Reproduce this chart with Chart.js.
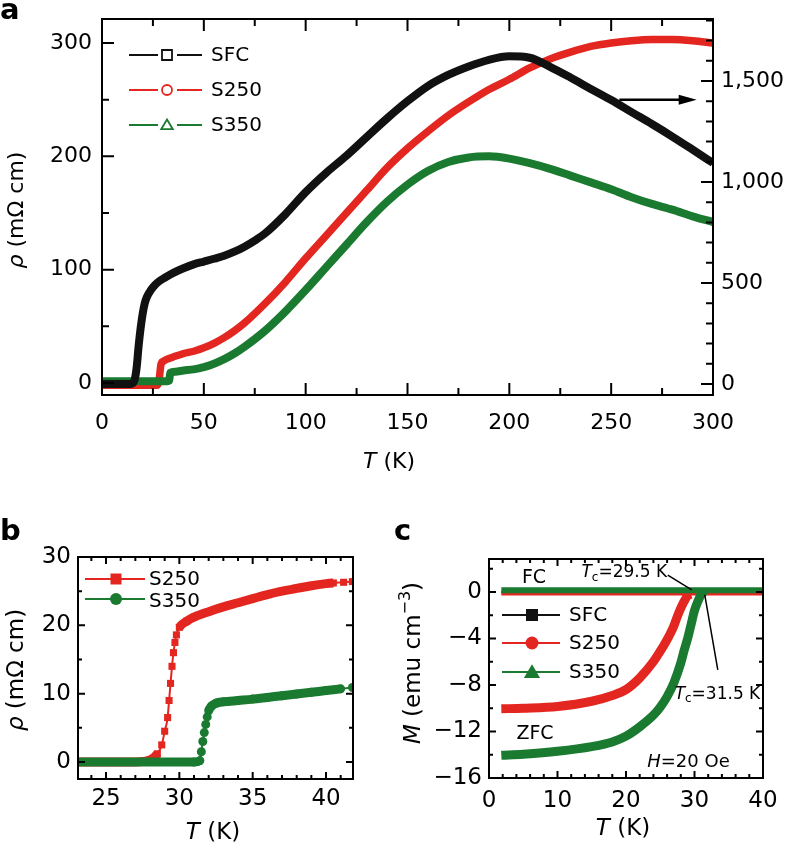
<!DOCTYPE html>
<html><head><meta charset="utf-8">
<script src="https://cdn.jsdelivr.net/npm/chart.js@4.4.0/dist/chart.umd.min.js"></script>
<style>
body{margin:0;background:#fff;width:788px;height:850px;position:relative;overflow:hidden}
canvas{position:absolute}
</style></head><body>
<canvas id="ca" width="788" height="475" style="left:0;top:0"></canvas>
<canvas id="cb" width="390" height="370" style="left:0;top:480px"></canvas>
<canvas id="cc" width="398" height="370" style="left:390px;top:480px"></canvas>
<script>
// ---------------- DATA ----------------
// Panel a
const A_T_SFC = [0,5,10,14,15,16,17,18,19,20,21,22,24,26,28,31,35,40,45,50,55,60,65,70,75,80,90,100,110,120,130,140,150,160,170,180,190,200,210,220,230,240,250,260,270,280,290,300];
const A_SFC   = [0,0,0,0,3,20,80,190,280,350,400,430,465,490,508,527,550,573,592,606,620,635,655,680,710,745,840,950,1045,1130,1223,1315,1400,1475,1530,1572,1605,1622,1615,1570,1517,1461,1406,1346,1287,1225,1160,1094];
const A_T_S250 = [0,10,20,27,28,28.5,29,30,32,35,40,45,50,55,60,65,70,80,90,100,110,120,130,140,150,160,170,180,190,200,210,220,230,240,250,260,270,280,290,300];
const A_S250   = [-2,-2,-2,-2,2,10,17,19,21,23,26,28,31,35,40,46,53,70,89,110,130,150,170,190,207,222,236,248,259,268,278,286,292,297,300,302,303,303,302,300];
const A_T_S350 = [0,10,20,30,32,33,33.5,36,40,45,50,55,60,65,70,80,90,100,110,120,130,140,150,160,170,180,190,200,210,220,230,240,250,260,270,280,290,300];
const A_S350   = [1.5,1.5,1.5,1.5,1.5,2,9,10,11,12,14,17,21,26,32,46,63,82,102,122,142,160,175,187,195,199,200,198,194,189,183,177,171,164,158,153,147,142];
const A_X_TICKS  = [0,50,100,150,200,250,300];
const A_Y_TICKS  = [0,100,200,300];
const A_Y2_TICKS = [0,500,1000,1500];

// Panel b
const B_T_S250 = [23,27,28,28.5,28.8,29.0,29.2,29.3,29.4,29.5,29.6,29.7,29.8,30.0,30.5,31,32,33,34,35,36,37,38,39,40,40.5,41.2,41.8];
const B_S250   = [0,0,0.3,1.2,2.5,4.5,6.5,9,11.5,14,16,17.5,18.6,19.7,20.6,21.2,22.0,22.7,23.3,23.9,24.5,25.0,25.4,25.8,26.1,26.2,26.3,26.4];
const B_T_S350 = [23,31,31.4,31.5,31.6,31.7,31.8,31.9,32.0,32.2,32.5,33,34,35,36,37,38,39,40,41,41.8];
const B_S350   = [0,0,0.2,1.5,3.0,4.3,5.5,6.6,7.5,8.2,8.6,8.8,9.0,9.2,9.45,9.7,9.95,10.2,10.45,10.7,10.9];
const B_X_TICKS = [25,30,35,40];
const B_Y_TICKS = [0,10,20,30];

// Panel c
const C_T_FC = [1.8,40];
const C_SFC_FC  = [0,0];
const C_S250_FC = [-0.2,-0.2];
const C_S350_FC = [0.15,0.15];
const C_T_S250_ZFC = [1.8,5,10,15,18,20,22,24,25,26,27,27.5,28,28.5,29,29.5];
const C_S250_ZFC   = [-10.05,-10.0,-9.85,-9.4,-8.9,-8.4,-7.4,-6.0,-5.1,-4.1,-2.9,-2.1,-1.4,-0.8,-0.3,-0.2];
const C_T_S350_ZFC = [1.8,5,10,15,18,20,22,24,25,26,27,28,28.5,29,29.5,30,30.5,31,31.5];
const C_S350_ZFC   = [-14.05,-13.95,-13.7,-13.3,-12.9,-12.4,-11.6,-10.6,-9.9,-9.0,-7.8,-6.1,-5.0,-4.0,-2.8,-1.6,-0.8,-0.2,0.1];
const C_X_TICKS = [0,10,20,30,40];
const C_Y_TICKS = [-16,-12,-8,-4,0];

const SERIES = ['SFC','S250','S350'];

// ---------------- STYLE / HELPERS ----------------
const BLACK='#111111', RED='#e3261f', GREEN='#1a7a30';
const FAM="'DejaVu Sans', sans-serif";
Chart.defaults.font.family = FAM;
Chart.defaults.color = '#000';
Chart.defaults.animation = false;

function pts(xs, ys){ return xs.map((x,i)=>({x:x, y:ys[i]})); }
function setTicks(vals){ return function(s){ s.ticks = vals.map(v=>({value:v})); }; }
function fixW(w){ return function(s){ s.width=w; s.paddingTop=0; s.paddingBottom=0; s.paddingLeft=0; s.paddingRight=0; }; }
function fixH(h){ return function(s){ s.height=h; s.paddingTop=0; s.paddingBottom=0; s.paddingLeft=0; s.paddingRight=0; }; }
const minus = v => v<0 ? '\u2212'+Math.abs(v) : String(v);

function drawRich(ctx, parts, x, y, o){
  o = o||{};
  let w=0;
  parts.forEach(p=>{ ctx.font=(p.it?'italic ':'')+p.sz+'px '+FAM; p.w=ctx.measureText(p.t).width; w+=p.w; });
  ctx.save();
  ctx.translate(x,y);
  if(o.rot) ctx.rotate(-Math.PI/2);
  let cx = o.align==='center' ? -w/2 : 0;
  ctx.textBaseline = o.base||'alphabetic'; ctx.textAlign='left'; ctx.fillStyle='#000';
  parts.forEach(p=>{ ctx.font=(p.it?'italic ':'')+p.sz+'px '+FAM; ctx.fillText(p.t, cx, p.dy||0); cx+=p.w; });
  ctx.restore();
}
function marker(ctx, type, x, y, s, col, fill){
  ctx.beginPath();
  if(type==='sq') ctx.rect(x-s/2,y-s/2,s,s);
  else if(type==='ci') ctx.arc(x,y,s/2,0,2*Math.PI);
  else { ctx.moveTo(x,y-s*0.55); ctx.lineTo(x+s*0.58,y+s*0.42); ctx.lineTo(x-s*0.58,y+s*0.42); ctx.closePath(); }
  if(fill){ ctx.fillStyle=col; ctx.fill(); }
  else { ctx.fillStyle='#fff'; ctx.fill(); ctx.strokeStyle=col; ctx.lineWidth=1.8; ctx.stroke(); }
}
function hline(ctx,x0,x1,y,col,lw){ ctx.beginPath(); ctx.moveTo(x0,y); ctx.lineTo(x1,y); ctx.strokeStyle=col; ctx.lineWidth=lw; ctx.stroke(); }
function letter(ctx,t,x,y){ ctx.save(); ctx.font='bold 29px '+FAM; ctx.fillStyle='#000'; ctx.textBaseline='alphabetic'; ctx.fillText(t,x,y); ctx.restore(); }

const framePlugin = {
  id:'frame',
  afterDatasetsDraw(chart, args, o){
    const ctx=chart.ctx, a=chart.chartArea;
    ctx.save(); ctx.strokeStyle='#000'; ctx.lineWidth=o.lw;
    ctx.strokeRect(a.left,a.top,a.right-a.left,a.bottom-a.top);
    const marks=(sc,step,majors)=>{ const out=[]; majors.forEach(v=>out.push([v,o.major]));
      for(let k=Math.ceil(sc.min/step-1e-9); k*step<=sc.max+1e-9; k++){ const v=k*step; if(!majors.some(m=>Math.abs(m-v)<1e-6)) out.push([v,o.minor]); } return out; };
    ctx.beginPath();
    const xs=chart.scales.x;
    marks(xs,o.xStep,o.xMajor).forEach(([v,L])=>{ const p=xs.getPixelForValue(v); if(p<a.left+1||p>a.right-1) return; ctx.moveTo(p,a.bottom); ctx.lineTo(p,a.bottom-L); ctx.moveTo(p,a.top); ctx.lineTo(p,a.top+L); });
    const yl=chart.scales.y;
    marks(yl,o.yStep,o.yMajor).forEach(([v,L])=>{ const p=yl.getPixelForValue(v); if(p<a.top+1||p>a.bottom-1) return; ctx.moveTo(a.left,p); ctx.lineTo(a.left+L,p); if(!o.y2){ ctx.moveTo(a.right,p); ctx.lineTo(a.right-L,p);} });
    if(o.y2){ const yr=chart.scales.y1;
      marks(yr,o.y2Step,o.y2Major).forEach(([v,L])=>{ const p=yr.getPixelForValue(v); if(p<a.top+1||p>a.bottom-1) return; ctx.moveTo(a.right,p); ctx.lineTo(a.right-L,p); }); }
    ctx.stroke(); ctx.restore();
  }
};
const baseOpts = (pad)=>({ responsive:false, animation:false, events:[], layout:{padding:pad},
  plugins:{legend:{display:false}, tooltip:{enabled:false}} });
const axisBase = (sz,pad,cb)=>({ type:'linear', grid:{display:false, drawTicks:false, tickLength:0}, border:{display:false},
  ticks:Object.assign({font:{size:sz}, padding:pad, maxRotation:0, autoSkip:false, color:'#000'}, cb?{callback:cb}:{}) });

// ---------------- PANEL A ----------------
const decoA = { id:'decoA', afterDraw(chart){
  const ctx=chart.ctx, xs=chart.scales.x, ys=chart.scales.y;
  letter(ctx,'a',0,19);
  const mk=['sq','ci','tr'], cols=[BLACK,RED,GREEN];
  SERIES.forEach((s,i)=>{ const y=55+35*i;
    hline(ctx,129,158,y,cols[i],2); hline(ctx,177,202,y,cols[i],2);
    marker(ctx,mk[i],167,y,10,cols[i],false);
    ctx.font='20px '+FAM; ctx.fillStyle='#000'; ctx.textBaseline='middle'; ctx.fillText(s,211,y+1);
  });
  // arrow pointing to right axis
  const x0=xs.getPixelForValue(254), x1=xs.getPixelForValue(292), y=ys.getPixelForValue(250);
  hline(ctx,x0,x1-14,y,'#000',2.5);
  ctx.beginPath(); ctx.moveTo(x1,y); ctx.lineTo(x1-18,y-5); ctx.lineTo(x1-18,y+5); ctx.closePath(); ctx.fillStyle='#000'; ctx.fill();
  drawRich(ctx,[{t:'T',it:1,sz:22},{t:' (K)',sz:22}],389,468,{align:'center'});
  drawRich(ctx,[{t:'\u03c1',it:1,sz:22},{t:' (m\u03a9 cm)',sz:22}],17,210,{align:'center',rot:true,base:'middle'});
}};
new Chart(document.getElementById('ca'),{
  type:'line',
  data:{datasets:[
    {label:SERIES[0], data:pts(A_T_SFC,A_SFC), yAxisID:'y1', borderColor:BLACK, borderWidth:8, pointRadius:0, cubicInterpolationMode:'monotone', order:0},
    {label:SERIES[2], data:pts(A_T_S350,A_S350), yAxisID:'y', borderColor:GREEN, borderWidth:8, pointRadius:0, cubicInterpolationMode:'monotone', order:1},
    {label:SERIES[1], data:pts(A_T_S250,A_S250), yAxisID:'y', borderColor:RED, borderWidth:7.5, pointRadius:0, cubicInterpolationMode:'monotone', order:2}
  ]},
  options:Object.assign(baseOpts({top:19,left:0,right:0,bottom:0}),{
    plugins:{legend:{display:false},tooltip:{enabled:false},
      frame:{lw:2,major:12,minor:7,xStep:25,xMajor:A_X_TICKS,yStep:50,yMajor:A_Y_TICKS,y2:true,y2Step:100,y2Major:A_Y2_TICKS}},
    scales:{
      x:Object.assign(axisBase(22,15),{min:0,max:300,afterBuildTicks:setTicks(A_X_TICKS),afterFit:fixH(80)}),
      y:Object.assign(axisBase(22,10),{position:'left',min:-10.6,max:321.2,afterBuildTicks:setTicks(A_Y_TICKS),afterFit:fixW(102)}),
      y1:Object.assign(axisBase(22,8,v=>v.toLocaleString('en-US')),{position:'right',min:-54.5,max:1807,afterBuildTicks:setTicks(A_Y2_TICKS),afterFit:fixW(75)})
    }
  }),
  plugins:[framePlugin,decoA]
});

// ---------------- PANEL B ----------------
const steepSeg = c => { const dx=c.p1.parsed.x-c.p0.parsed.x, dy=c.p1.parsed.y-c.p0.parsed.y; return (Math.abs(dy/dx)>4 || c.p0.parsed.x>=40.4) ? 2 : 9; };
const decoB = { id:'decoB', afterDraw(chart){
  const ctx=chart.ctx;
  letter(ctx,'b',0,60);
  hline(ctx,85,145,99,RED,2); marker(ctx,'sq',116,99,11,RED,true);
  hline(ctx,85,145,119,GREEN,2); marker(ctx,'ci',116,119,12,GREEN,true);
  ctx.font='20px '+FAM; ctx.fillStyle='#000'; ctx.textBaseline='middle';
  ctx.fillText(SERIES[1],149,100); ctx.fillText(SERIES[2],149,122);
  drawRich(ctx,[{t:'T',it:1,sz:23},{t:' (K)',sz:23}],213,359,{align:'center'});
  drawRich(ctx,[{t:'\u03c1',it:1,sz:23},{t:' (m\u03a9 cm)',sz:23}],17,190,{align:'center',rot:true,base:'middle'});
}};
new Chart(document.getElementById('cb'),{
  type:'line',
  data:{datasets:[
    {label:SERIES[2], data:pts(B_T_S350,B_S350), borderColor:GREEN, backgroundColor:GREEN, borderWidth:8, segment:{borderWidth:steepSeg}, pointStyle:'circle', pointRadius:4.5, pointBorderWidth:0, pointBackgroundColor:GREEN, cubicInterpolationMode:'monotone', order:0},
    {label:SERIES[1], data:pts(B_T_S250,B_S250), borderColor:RED, backgroundColor:RED, borderWidth:9, segment:{borderWidth:steepSeg}, pointStyle:'rect', pointRadius:5, pointBorderWidth:0, pointBackgroundColor:RED, cubicInterpolationMode:'monotone', order:1}
  ]},
  options:Object.assign(baseOpts({top:77,left:0,right:37,bottom:0}),{
    plugins:{legend:{display:false},tooltip:{enabled:false},
      frame:{lw:2,major:7,minor:4,xStep:1,xMajor:B_X_TICKS,yStep:5,yMajor:B_Y_TICKS,y2:false}},
    scales:{
      x:Object.assign(axisBase(23,6),{min:23.09,max:41.84,afterBuildTicks:setTicks(B_X_TICKS),afterFit:fixH(71)}),
      y:Object.assign(axisBase(23,7),{position:'left',min:-2.49,max:30,afterBuildTicks:setTicks(B_Y_TICKS),afterFit:fixW(78)})
    }
  }),
  plugins:[framePlugin,decoB]
});

// ---------------- PANEL C ----------------
const decoC = { id:'decoC', afterDraw(chart){
  const ctx=chart.ctx, xs=chart.scales.x, ys=chart.scales.y;
  const X=v=>xs.getPixelForValue(v), Y=v=>ys.getPixelForValue(v);
  letter(ctx,'c',4,60);
  const mk=['sq','ci','tr'], cols=[BLACK,RED,GREEN], sz=[12,13,14];
  SERIES.forEach((s,i)=>{ const y=[135,163,192][i];
    hline(ctx,112,170,y,cols[i],2); marker(ctx,mk[i],142,y,sz[i],cols[i],true);
    ctx.font='20px '+FAM; ctx.fillStyle='#000'; ctx.textBaseline='middle'; ctx.fillText(s,179,y+1);
  });
  drawRich(ctx,[{t:'FC',sz:19}],X(4.8),Y(1.2),{base:'middle'});
  drawRich(ctx,[{t:'ZFC',sz:19}],X(4.0),Y(-12.25),{base:'middle'});
  drawRich(ctx,[{t:'H',it:1,sz:18},{t:'=20 Oe',sz:18}],X(23.1),Y(-14.65),{base:'middle'});
  drawRich(ctx,[{t:'T',it:1,sz:17},{t:'c',sz:12,dy:5},{t:'=29.5 K',sz:17}],X(13.5),Y(1.65),{base:'middle'});
  drawRich(ctx,[{t:'T',it:1,sz:17},{t:'c',sz:12,dy:5},{t:'=31.5 K',sz:17}],X(27.1),Y(-8.8),{base:'middle'});
  ctx.save(); ctx.strokeStyle='#000'; ctx.lineWidth=1.5; ctx.beginPath();
  ctx.moveTo(X(26.1),Y(1.45)); ctx.lineTo(X(29.6),Y(0.17));
  ctx.moveTo(X(33.4),Y(-6.7)); ctx.lineTo(X(31.5),Y(-0.25));
  ctx.stroke(); ctx.restore();
  drawRich(ctx,[{t:'T',it:1,sz:23},{t:' (K)',sz:23}],233,355,{align:'center'});
  drawRich(ctx,[{t:'M',it:1,sz:23},{t:' (emu cm',sz:23},{t:'\u22123',sz:16,dy:-8},{t:')',sz:23}],24,183,{align:'center',rot:true,base:'middle'});
}};
new Chart(document.getElementById('cc'),{
  type:'line',
  data:{datasets:[
    {label:SERIES[2]+' FC',  data:pts(C_T_FC,C_S350_FC), borderColor:GREEN, borderWidth:6, pointRadius:0, order:0},
    {label:SERIES[2]+' ZFC', data:pts(C_T_S350_ZFC,C_S350_ZFC), borderColor:GREEN, borderWidth:9, pointRadius:0, cubicInterpolationMode:'monotone', order:1},
    {label:SERIES[1]+' FC',  data:pts(C_T_FC,C_S250_FC), borderColor:RED, borderWidth:2.5, pointRadius:0, order:2},
    {label:SERIES[1]+' ZFC', data:pts(C_T_S250_ZFC,C_S250_ZFC), borderColor:RED, borderWidth:9, pointRadius:0, cubicInterpolationMode:'monotone', order:3},
    {label:SERIES[0]+' FC',  data:pts(C_T_FC,C_SFC_FC), borderColor:BLACK, borderWidth:2, pointRadius:0, order:4}
  ]},
  options:Object.assign(baseOpts({top:79,left:0,right:25,bottom:0}),{
    plugins:{legend:{display:false},tooltip:{enabled:false},
      frame:{lw:2,major:7,minor:4,xStep:2,xMajor:C_X_TICKS,yStep:2,yMajor:C_Y_TICKS,y2:false}},
    scales:{
      x:Object.assign(axisBase(23,9),{min:0,max:40,afterBuildTicks:setTicks(C_X_TICKS),afterFit:fixH(72)}),
      y:Object.assign(axisBase(23,7,minus),{position:'left',min:-16,max:2.83,afterBuildTicks:setTicks(C_Y_TICKS),afterFit:fixW(99)})
    }
  }),
  plugins:[framePlugin,decoC]
});
</script>
</body></html>
